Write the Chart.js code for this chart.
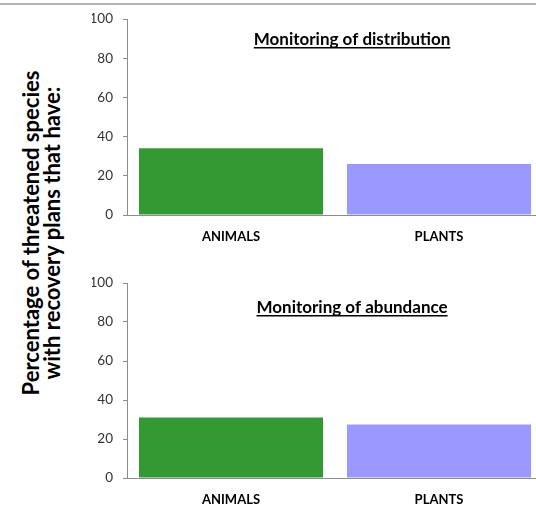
<!DOCTYPE html>
<html>
<head>
<meta charset="utf-8">
<script src="https://cdn.jsdelivr.net/npm/chart.js@4/dist/chart.umd.min.js"></script>
<style>
  html, body { margin: 0; padding: 0; background: #fff; overflow: hidden; }
  body { width: 536px; height: 505px; position: relative; font-family: Lato, "Open Sans", sans-serif; }
  .topline { position: absolute; left: 0; top: 3px; width: 536px; height: 2px; background: #b4b4b4; }
  .box { position: absolute; left: 92px; width: 451px; }
  #box1 { top: 0px; height: 249px; }
  #box2 { top: 262px; height: 250px; }
  .ytitle {
    position: absolute; left: 41px; top: 233px; width: 380px;
    transform: translate(-50%, -50%) rotate(-90deg);
    text-align: center; font-weight: bold; font-size: 22px; line-height: 21px; color: #000;
  }
</style>
</head>
<body>
<div class="topline"></div>
<div class="ytitle">Percentage of threatened species<br>with recovery plans that have:</div>
<div class="box" id="box1"><canvas id="c1"></canvas></div>
<div class="box" id="box2"><canvas id="c2"></canvas></div>
<script>
// data
const categories = ['ANIMALS', 'PLANTS'];
const distribution = [34, 26];
const abundance = [31, 27.5];
const barColors = ['#339933', '#9999ff'];
const yMin = 0, yMax = 100, yStep = 20;

// draws the underlined panel title inside the plot area
const panelTitle = {
  id: 'panelTitle',
  afterDraw(chart, args, opts) {
    const { ctx, chartArea } = chart;
    const x = chartArea.left + opts.pos * (chartArea.right - chartArea.left);
    const y = chartArea.top + opts.dy;
    ctx.save();
    ctx.font = 'bold 17px Lato, sans-serif';
    ctx.fillStyle = '#000';
    ctx.textAlign = 'center';
    ctx.textBaseline = 'alphabetic';
    ctx.fillText(opts.text, x, y);
    const w = ctx.measureText(opts.text).width;
    ctx.fillRect(x - w / 2, y + 2, w, 1.5);
    ctx.restore();
  }
};

function makeChart(id, values, title, dy, padTop) {
  return new Chart(document.getElementById(id), {
    type: 'bar',
    data: {
      labels: categories,
      datasets: [{
        data: values,
        backgroundColor: barColors,
        borderWidth: 0,
        barPercentage: 0.885,
        categoryPercentage: 1
      }]
    },
    plugins: [panelTitle],
    options: {
      responsive: true,
      maintainAspectRatio: false,
      animation: false,
      layout: { padding: { top: padTop, right: 0, left: 0, bottom: 0 } },
      plugins: {
        legend: { display: false },
        tooltip: { enabled: false },
        panelTitle: { text: title, pos: 0.541, dy: dy }
      },
      scales: {
        x: {
          grid: { display: false, drawTicks: false },
          border: { display: true, color: '#8c8c8c', width: 1 },
          ticks: {
            padding: 14,
            color: '#000',
            font: { family: 'Lato', size: 13, weight: 'bold' }
          },
          afterFit(scale) { scale.height = 34; }
        },
        y: {
          min: yMin,
          max: yMax,
          ticks: {
            stepSize: yStep,
            padding: 10,
            color: '#333',
            font: { family: 'Lato', size: 13.5 }
          },
          grid: { drawOnChartArea: false, drawTicks: true, tickLength: 4, color: '#8c8c8c' },
          border: { display: true, color: '#8c8c8c', width: 1 },
          afterFit(scale) { scale.width = 35; }
        }
      }
    }
  });
}

makeChart('c1', distribution, 'Monitoring of distribution', 26, 19);
makeChart('c2', abundance, 'Monitoring of abundance', 30, 21);
</script>
</body>
</html>
